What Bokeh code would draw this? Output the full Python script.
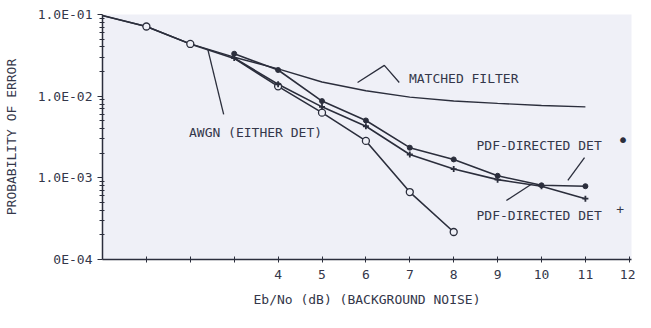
from bokeh.plotting import figure
from bokeh.models import FixedTicker, Range1d
from bokeh.core.properties import value
from bokeh.embed import file_html
from bokeh.resources import INLINE

# ---- data ----
snr_awgn = [0, 1, 2, 3, 4, 5, 6, 7, 8]
pe_awgn = [0.097, 0.0713, 0.0436, 0.029, 0.0132, 0.00628, 0.00283, 0.00067, 0.000217]
awgn_marked = [False, True, True, False, True, True, True, True, True]

snr_mf = [0, 1, 2, 3, 4, 5, 6, 7, 8, 9, 10, 11]
pe_mf = [0.097, 0.0713, 0.0436, 0.030, 0.0216, 0.0149, 0.01166, 0.00973, 0.00871, 0.00815, 0.0077, 0.00739]

snr_pdf = [3, 4, 5, 6, 7, 8, 9, 10, 11]
pe_pdf_dot = [0.0331, 0.0209, 0.0087, 0.00504, 0.00234, 0.00168, 0.00106, 0.00081, 0.00079]
pe_pdf_plus = [0.0293, 0.0140, 0.0074, 0.00428, 0.00193, 0.00128, 0.00095, 0.00079, 0.000555]

xticks = [1, 2, 3, 4, 5, 6, 7, 8, 9, 10, 11, 12]
xtick_labels = ["", "", "", "4", "5", "6", "7", "8", "9", "10", "11", "12"]
yticks = [1e-4, 1e-3, 1e-2, 1e-1]
ytick_labels = ["0E-04", "1.0E-03", "1.0E-02", "1.0E-01"]

x_title = "Eb/No (dB) (BACKGROUND NOISE)"
y_title = "PROBABILITY OF ERROR"

# annotation texts and their anchor points (data coordinates)
ann_text = ["MATCHED FILTER", "AWGN (EITHER DET)", "PDF-DIRECTED DET", "PDF-DIRECTED DET", "+"]
ann_x = [6.98, 1.97, 8.52, 8.52, 11.70]
ann_y = [0.0164, 0.00359, 0.00249, 0.000346, 0.000415]
sym_text = ["\u2022"]
sym_x = [11.72]
sym_y = [0.00290]

# pointer strokes (data coordinates)
ptr_mf_x = [5.81, 6.42, 6.76]
ptr_mf_y = [0.0147, 0.0238, 0.0147]
ptr_awgn_x = [2.40, 2.76]
ptr_awgn_y = [0.0372, 0.00597]
ptr_dot_x = [10.98, 10.60]
ptr_dot_y = [0.00177, 0.00093]
ptr_plus_x = [9.20, 9.76]
ptr_plus_y = [0.000528, 0.000828]

FONT = "DejaVu Sans Mono"
INK = "#2b2e3c"
TXT = "#34374a"
PAPER = "#eff0f7"

p = figure(width=635, height=312,
           x_range=Range1d(0, 12.05), y_range=Range1d(1e-4, 1e-1),
           y_axis_type="log", output_backend="svg", toolbar_location=None,
           min_border_left=98, min_border_right=4, min_border_top=14, min_border_bottom=53)

p.background_fill_color = PAPER
p.border_fill_color = "white"
p.outline_line_color = None
p.grid.grid_line_color = None

# axes
p.xaxis.ticker = FixedTicker(ticks=xticks)
p.xaxis.major_label_overrides = {t: l for t, l in zip(xticks, xtick_labels)}
p.yaxis.ticker = FixedTicker(ticks=yticks,
                             minor_ticks=[m * d for d in yticks[:-1] for m in range(2, 10)])
p.yaxis.major_label_overrides = {t: l for t, l in zip(yticks, ytick_labels)}

for ax in (p.xaxis, p.yaxis):
    ax.axis_line_color = INK
    ax.axis_line_width = 1.5
    ax.major_tick_line_color = INK
    ax.minor_tick_line_color = INK
    ax.major_label_text_font = FONT
    ax.major_label_text_font_size = "13px"
    ax.major_label_text_color = TXT
    ax.axis_label_text_font = FONT
    ax.axis_label_text_font_size = "13px"
    ax.axis_label_text_font_style = "normal"
    ax.axis_label_text_color = TXT

p.xaxis.axis_label = x_title
p.xaxis.major_tick_in = 3
p.xaxis.major_tick_out = 3
p.xaxis.major_label_standoff = 7
p.xaxis.axis_label_standoff = 10
p.xaxis.minor_tick_line_color = None

p.yaxis.axis_label = y_title
p.yaxis.major_tick_in = 0
p.yaxis.major_tick_out = 5
p.yaxis.minor_tick_in = 2
p.yaxis.minor_tick_out = 3
p.yaxis.major_label_standoff = 5
p.yaxis.axis_label_standoff = 16

# curves
p.line(snr_mf, pe_mf, line_color=INK, line_width=1.4)
p.line(snr_awgn, pe_awgn, line_color=INK, line_width=1.6)
p.line(snr_pdf, pe_pdf_dot, line_color=INK, line_width=1.6)
p.line(snr_pdf, pe_pdf_plus, line_color=INK, line_width=1.6)

mx = [x for x, m in zip(snr_awgn, awgn_marked) if m]
my = [y for y, m in zip(pe_awgn, awgn_marked) if m]
p.scatter(mx, my, marker="circle", size=7, fill_color=PAPER, line_color=INK, line_width=1.3)
p.scatter(snr_pdf, pe_pdf_dot, marker="circle", size=5, fill_color=INK, line_color=INK)
p.scatter(snr_pdf, pe_pdf_plus, marker="cross", size=6, line_color=INK, line_width=1.8)

# pointers
for xs, ys in ((ptr_mf_x, ptr_mf_y), (ptr_awgn_x, ptr_awgn_y),
               (ptr_dot_x, ptr_dot_y), (ptr_plus_x, ptr_plus_y)):
    p.line(xs, ys, line_color=INK, line_width=1.3)

# annotation texts
p.text(ann_x, ann_y, text=ann_text, text_font=value(FONT), text_font_size="13px",
       text_color=TXT, text_baseline="middle", text_align="left")
p.text(sym_x, sym_y, text=sym_text, text_font=value(FONT), text_font_size="20px",
       text_color=INK, text_baseline="middle", text_align="left")

open("out.html", "w").write(file_html(p, INLINE))
